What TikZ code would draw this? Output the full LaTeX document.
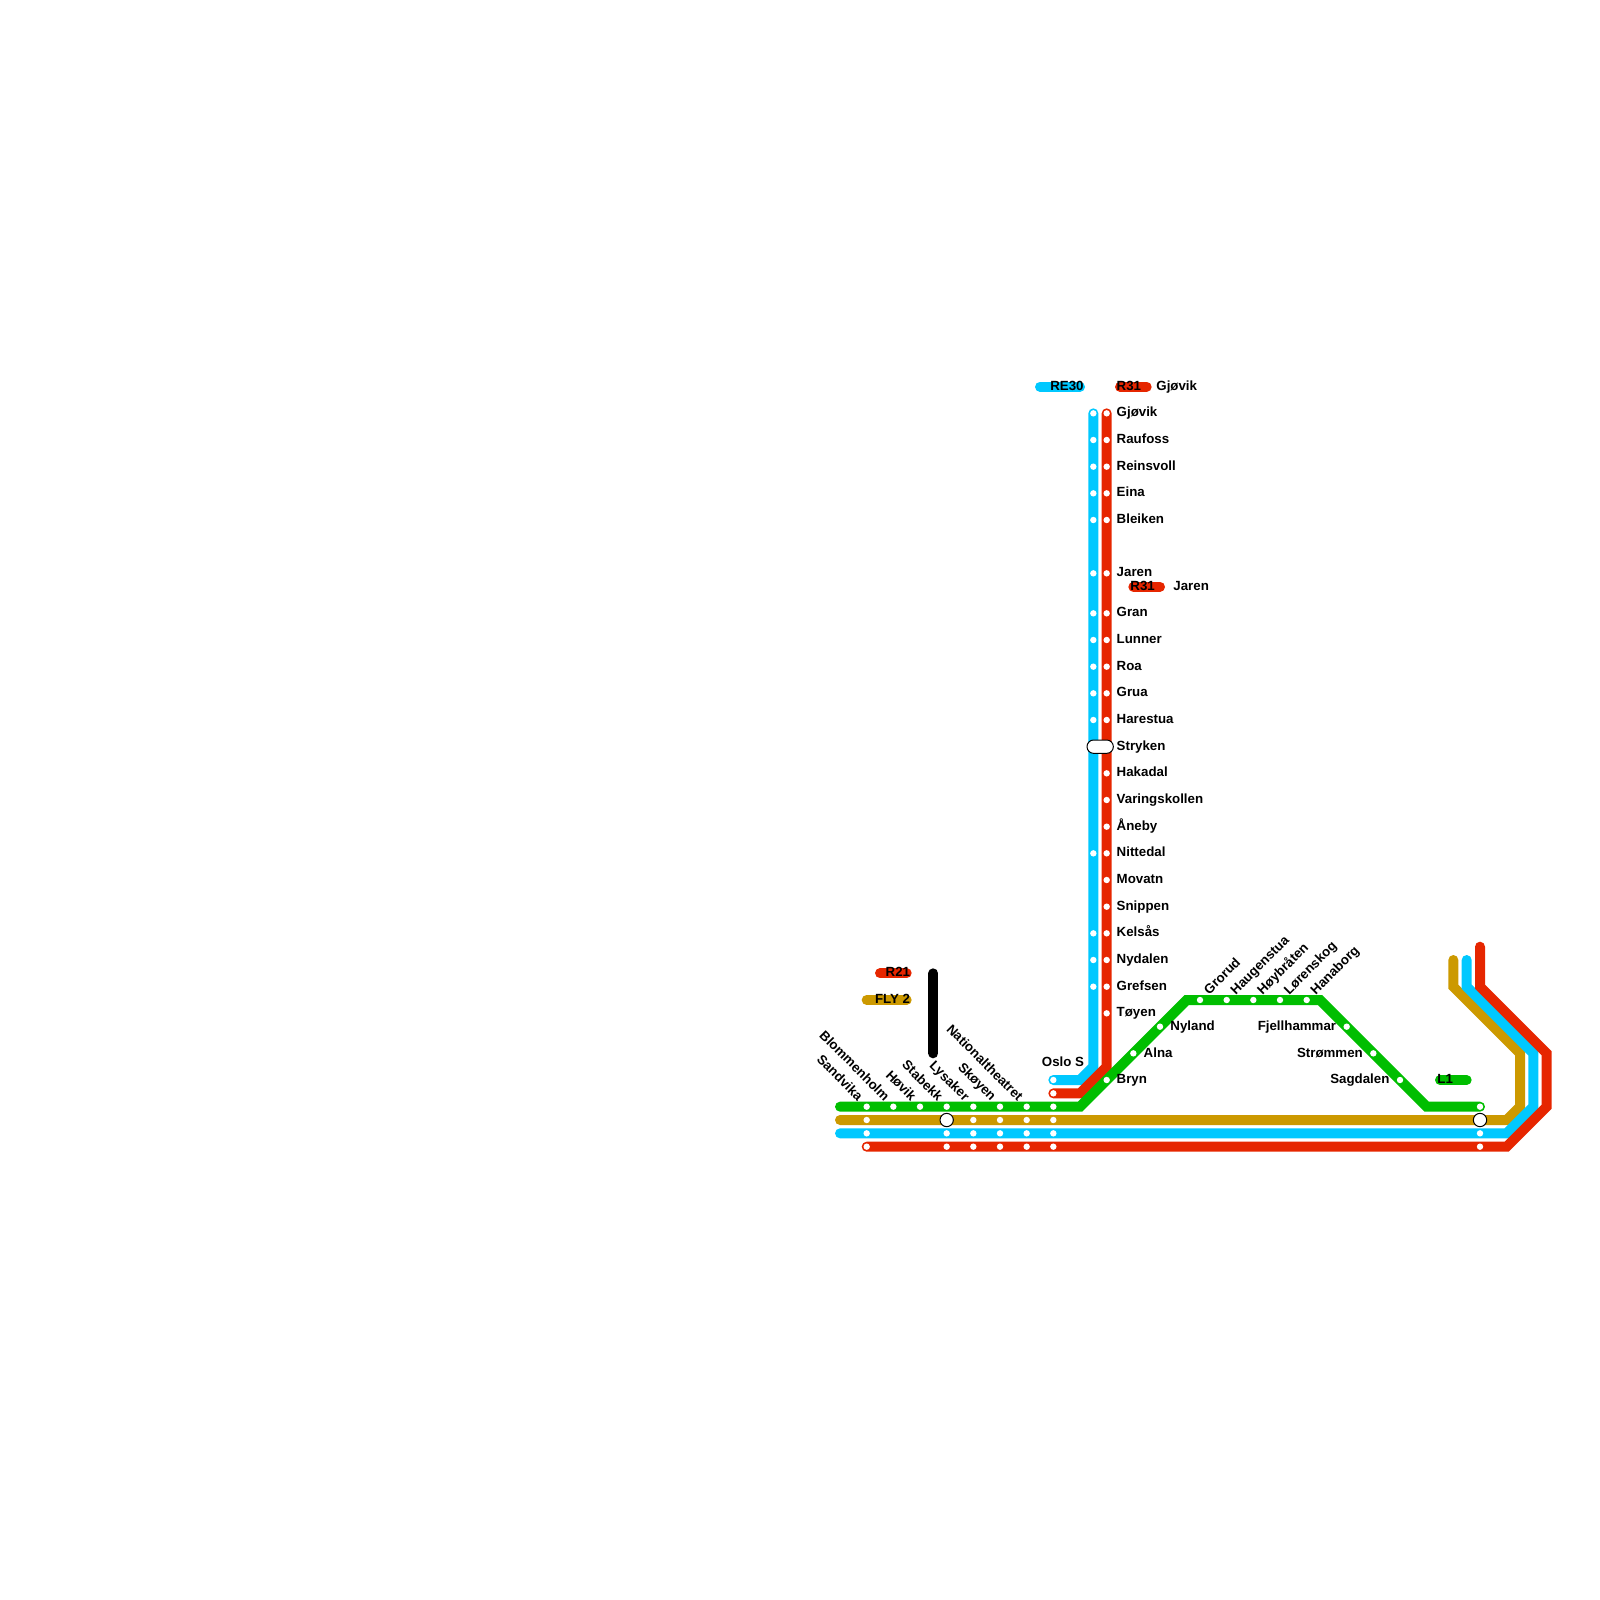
\documentclass[tikz,border=0pt]{standalone}
\usepackage{fontspec}
\setmainfont{Liberation Sans}
\tikzset{
  linje/.style={line width=5pt,line cap=round,miter limit=10},
  stopp/.style={fill=white},
  bytte/.style={draw=black,fill=white,line width=.5pt},
  navn/.style={font=\fontsize{6.65}{8}\bfseries\selectfont,inner sep=0pt},
  venstre/.style={navn,anchor=base west},
  hoyre/.style={navn,anchor=base east},
  ned/.style={navn,anchor=base east,rotate=-45},
  opp/.style={navn,anchor=base west,rotate=45},
}
\definecolor{rod}{HTML}{E62600}
\definecolor{bla}{HTML}{00C8FF}
\definecolor{gronn}{HTML}{00BE00}
\definecolor{gul}{HTML}{CC9900}
\begin{document}
\begin{tikzpicture}[x=.5pt,y=-.5pt]
\useasboundingbox (0,0) rectangle (1600,1600);
% lines
\draw[linje,gul] (840,1120) -- (1506.67,1120) -- (1520,1106.67) -- (1520,1053.33) -- (1453.33,986.67) -- (1453.33,960);
\draw[linje,bla] (840,1133.33) -- (1506.67,1133.33) -- (1533.33,1106.67) -- (1533.33,1053.33) -- (1466.67,986.67) -- (1466.67,960);
\draw[linje,rod] (866.67,1146.67) -- (1506.67,1146.67) -- (1546.67,1106.67) -- (1546.67,1053.33) -- (1480,986.67) -- (1480,946.67);
\draw[linje,bla] (1053.33,1080) -- (1080,1080) -- (1093.33,1066.67) -- (1093.33,413.33);
\draw[linje,rod] (1053.33,1093.33) -- (1080,1093.33) -- (1106.67,1066.67) -- (1106.67,413.33);
\draw[linje,gronn] (840,1106.67) -- (1080,1106.67) -- (1186.67,1000) -- (1320,1000) -- (1426.67,1106.67) -- (1480,1106.67);
\draw[linje,black] (933.33,973.33) -- (933.33,1053.33);
% legend
\draw[linje,rod] (880,973.33) -- (906.67,973.33);
\draw[linje,gul] (866.67,1000) -- (906.67,1000);
\draw[linje,bla] (1040,386.67) -- (1080,386.67);
\draw[linje,rod] (1120,386.67) -- (1146.67,386.67);
\draw[linje,rod] (1133.33,586.67) -- (1160,586.67);
\draw[linje,gronn] (1440,1080) -- (1466.67,1080);
\node[hoyre] (r21) at (910.5,976.5) {R21};
\node[hoyre] (fly2) at (910.5,1003.2) {FLY 2};
\node[hoyre] (re30) at (1084,390) {RE30};
\node[venstre] (r31a) at (1116.3,390) {R31};
\node[venstre] (gjovika) at (1156,390) {Gjøvik};
\node[venstre] (r31b) at (1130,590) {R31};
\node[venstre] (jarenb) at (1173,590) {Jaren};
\node[venstre] (l1) at (1437,1083) {L1};
% stops
\foreach \y in {413.33,440,466.67,493.33,520,573.33,613.33,640,666.67,693.33,720,853.33,933.33,960,986.67}{\fill[stopp] (1093.33,\y) circle (3.2);}
\foreach \y in {413.33,440,466.67,493.33,520,573.33,613.33,640,666.67,693.33,720,773.33,800,826.67,853.33,880,906.67,933.33,960,986.67,1013.33}{\fill[stopp] (1106.67,\y) circle (3.2);}
\foreach \x in {866.67,893.33,920,946.67,973.33,1000,1026.67,1053.33,1480}{\fill[stopp] (\x,1106.67) circle (3.2);}
\foreach \x in {866.67,973.33,1000,1026.67,1053.33}{\fill[stopp] (\x,1120) circle (3.2);}
\foreach \x in {866.67,946.67,973.33,1000,1026.67,1053.33,1480}{\fill[stopp] (\x,1133.33) circle (3.2);\fill[stopp] (\x,1146.67) circle (3.2);}
\foreach \x/\y in {1106.67/1080,1133.33/1053.33,1160/1026.67,1200/1000,1226.67/1000,1253.33/1000,1280/1000,1306.67/1000,1346.67/1026.67,1373.33/1053.33,1400/1080}{\fill[stopp] (\x,\y) circle (3.2);}
\fill[stopp] (1053.33,1080) circle (3.2);
\fill[stopp] (1053.33,1093.33) circle (3.2);
\draw[bytte] (946.67,1120) circle (6.67);
\draw[bytte] (1480,1120) circle (6.67);
\draw[bytte,rounded corners=3.3pt] (1087,740) rectangle (1113.33,753.33);
% names
\foreach \y/\t/\n in {413.33/Gjøvik/gjovik,440/Raufoss/raufoss,466.67/Reinsvoll/reinsvoll,493.33/Eina/eina,520/Bleiken/bleiken,573.33/Jaren/jaren,613.33/Gran/gran,640/Lunner/lunner,666.67/Roa/roa,693.33/Grua/grua,720/Harestua/harestua,746.67/Stryken/stryken,773.33/Hakadal/hakadal,800/Varingskollen/varing,826.67/Åneby/aneby,853.33/Nittedal/nittedal,880/Movatn/movatn,906.67/Snippen/snippen,933.33/Kelsås/kelsas,960/Nydalen/nydalen,986.67/Grefsen/grefsen,1013.33/Tøyen/toyen,1080/Bryn/bryn}{\node[venstre] (\n) at (1116.3,\y+3.6) {\t};}
\node[venstre] (alna) at (1143.33,1057) {Alna};
\node[venstre] (nyland) at (1170,1030.3) {Nyland};
\node[hoyre] (fjell) at (1336.5,1030.3) {Fjellhammar};
\node[hoyre] (strommen) at (1363.2,1057) {Strømmen};
\node[hoyre] (sagdalen) at (1389.8,1083.6) {Sagdalen};
\node[hoyre] (oslos) at (1084.5,1066.5) {Oslo S};
\foreach \x/\t/\n in {866.67/Sandvika/sandvika,893.33/Blommenholm/blommenholm,920/Høvik/hovik,946.67/Stabekk/stabekk,973.33/Lysaker/lysaker,1000/Skøyen/skoyen,1026.67/Nationaltheatret/national}{\node[ned] (\n) at (\x-9,1102) {\t};}
\foreach \x/\t/\n in {1200/Grorud/grorud,1226.67/Haugenstua/haugenstua,1253.33/Høybråten/hoybraten,1280/Lørenskog/lorenskog,1306.67/Hanaborg/hanaborg}{\node[opp] (\n) at (\x+9,995.5) {\t};}
\end{tikzpicture}
\end{document}
